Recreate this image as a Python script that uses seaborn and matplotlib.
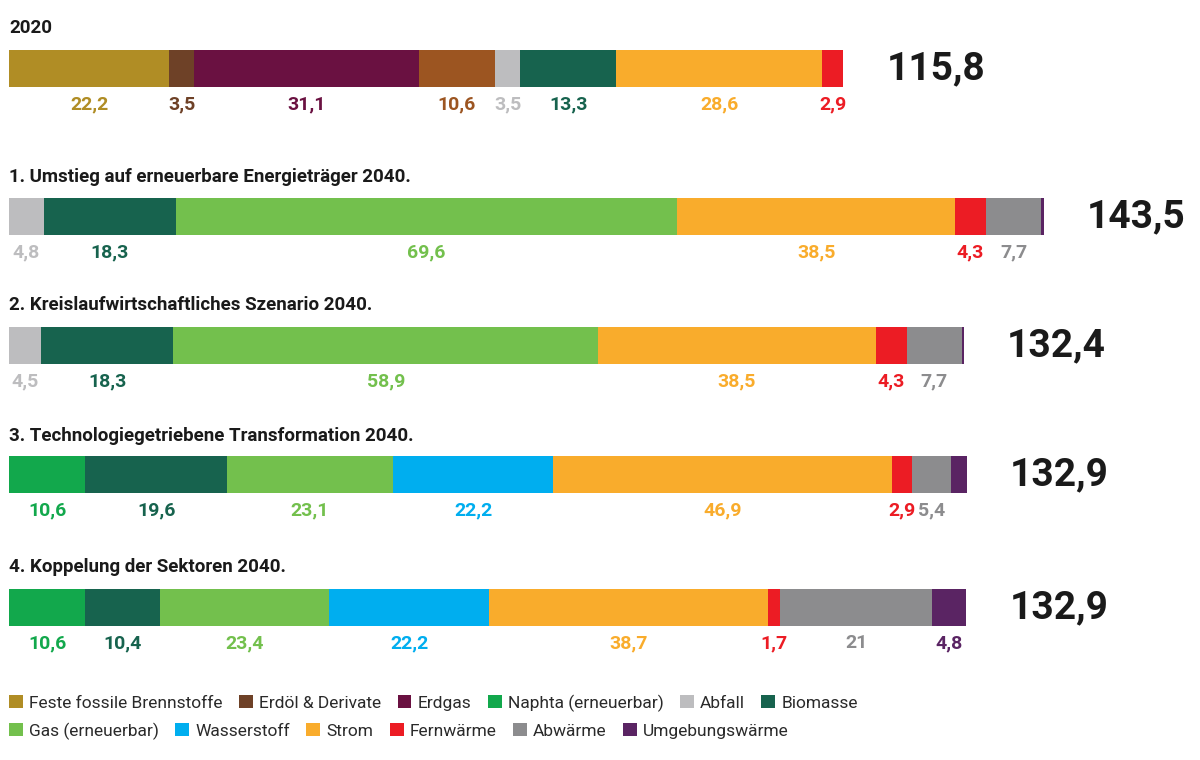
import matplotlib
matplotlib.use("Agg")
import matplotlib.pyplot as plt
from matplotlib.patches import Patch
import numpy as np
import seaborn as sns

# ---- data -----------------------------------------------------------------
categories = [
    "Feste fossile Brennstoffe", "Erdöl & Derivate", "Erdgas", "Naphtha (fossil)",
    "Naphta (erneuerbar)", "Abfall", "Biomasse", "Gas (erneuerbar)", "Wasserstoff",
    "Strom", "Fernwärme", "Abwärme", "Umgebungswärme",
]
colors = [
    "#B08D25", "#6E4127", "#6A1141", "#9C5521",
    "#12A84C", "#BDBDBF", "#17634E", "#73C04D", "#00AEEF",
    "#F9AC2C", "#EC1C24", "#8C8C8E", "#5A2463",
]
scenario_titles = [
    "2020",
    "1. Umstieg auf erneuerbare Energieträger 2040.",
    "2. Kreislaufwirtschaftliches Szenario 2040.",
    "3. Technologiegetriebene Transformation 2040.",
    "4. Koppelung der Sektoren 2040.",
]
values_2020 = [22.2, 3.5, 31.1, 10.6, 0, 3.5, 13.3, 0, 0, 28.6, 2.9, 0, 0]
values_s1 = [0, 0, 0, 0, 0, 4.8, 18.3, 69.6, 0, 38.5, 4.3, 7.7, 0.3]
values_s2 = [0, 0, 0, 0, 0, 4.5, 18.3, 58.9, 0, 38.5, 4.3, 7.7, 0.2]
values_s3 = [0, 0, 0, 0, 10.6, 0, 19.6, 23.1, 22.2, 46.9, 2.9, 5.4, 2.2]
values_s4 = [0, 0, 0, 0, 10.6, 0, 10.4, 23.4, 22.2, 38.7, 1.7, 21, 4.8]
totals = [115.8, 143.5, 132.4, 132.9, 132.9]

legend_row1 = ["Feste fossile Brennstoffe", "Erdöl & Derivate", "Erdgas",
               "Naphta (erneuerbar)", "Abfall", "Biomasse"]
legend_row2 = ["Gas (erneuerbar)", "Wasserstoff", "Strom", "Fernwärme",
               "Abwärme", "Umgebungswärme"]

# segments that carry no number in the original
unlabelled = {(3, "Umgebungswärme")}

# ---- layout (pixels) --------------------------------------------------------
W, H = 1200, 760
PX_PER_UNIT = 7.21
LEFT_PX = 9
bar_top = [50, 198, 327, 456, 589]
BAR_H = 37
title_y = [28, 177, 305, 436, 567]
LABEL_GAP = 17
PT = 72 / 100  # pixels -> points at dpi 100

sns.set_theme(style="white")
plt.rcParams["font.family"] = ["Roboto", "DejaVu Sans"]

fig = plt.figure(figsize=(W / 100, H / 100), dpi=100)
fig.patch.set_facecolor("white")


def fmt(v):
    s = f"{v:.1f}".replace(".", ",")
    return s[:-2] if s.endswith(",0") else s


all_values = [values_2020, values_s1, values_s2, values_s3, values_s4]
for i, vals in enumerate(all_values):
    ax = fig.add_axes([0, 1 - (bar_top[i] + BAR_H) / H, 1, BAR_H / H])
    cum = np.cumsum(vals)
    # draw cumulative bars from right to left so every segment stays visible
    for j in reversed(range(len(categories))):
        if vals[j] <= 0:
            continue
        sns.barplot(x=[cum[j]], y=[scenario_titles[i]], orient="h", color=colors[j],
                    saturation=1, width=1, linewidth=0, errorbar=None, ax=ax)
    ax.set_xlim(-LEFT_PX / PX_PER_UNIT, (W - LEFT_PX) / PX_PER_UNIT)
    ax.set_ylim(0.5, -0.5)
    ax.set_axis_off()

    for j, v in enumerate(vals):
        if v < 1 or (i, categories[j]) in unlabelled:
            continue
        ax.annotate(fmt(v), xy=(cum[j] - v / 2, 0), xycoords=("data", "axes fraction"),
                    xytext=(0, -LABEL_GAP * PT), textcoords="offset points",
                    ha="center", va="center", fontsize=14, fontweight="bold",
                    color=colors[j], annotation_clip=False)

    ax.annotate(fmt(totals[i]), xy=(totals[i], 0.5), xycoords=("data", "axes fraction"),
                xytext=(43 * PT, 0), textcoords="offset points",
                ha="left", va="center", fontsize=28, fontweight="bold",
                color="#1a1a1a", annotation_clip=False)

    fig.text(LEFT_PX / W, 1 - title_y[i] / H, scenario_titles[i], ha="left", va="center",
             fontsize=13.5, fontweight="bold", color="#1a1a1a")

color_of = dict(zip(categories, colors))
for row, ypx in ((legend_row1, 703), (legend_row2, 731)):
    handles = [Patch(facecolor=color_of[c], edgecolor="none", label=c) for c in row]
    leg = fig.legend(handles=handles, loc="center left", bbox_to_anchor=(LEFT_PX / W, 1 - ypx / H),
                     ncol=len(row), frameon=False, fontsize=12.5, handlelength=0.8,
                     handleheight=0.8, handletextpad=0.35, columnspacing=0.95,
                     borderpad=0, borderaxespad=0)
    for t in leg.get_texts():
        t.set_color("#2a2a2a")

fig.savefig("out.png", dpi=100, facecolor="white")
